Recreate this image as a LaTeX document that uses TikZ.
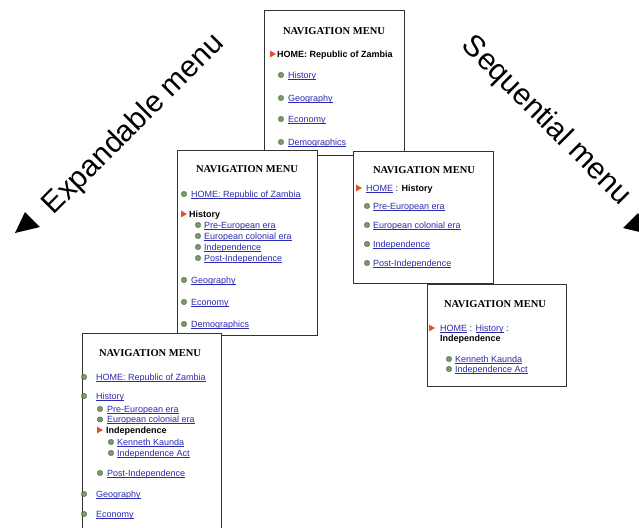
\documentclass[tikz,border=0pt]{standalone}
\usepackage{fontspec}
\setmainfont{Liberation Sans}
\newfontfamily\titlefamily{Liberation Serif}
\usetikzlibrary{shapes.geometric}
\definecolor{linkblue}{HTML}{2B2BB0}
\definecolor{bulgreen}{HTML}{7C9C6C}
\definecolor{buledge}{HTML}{4E6E48}
\definecolor{curred}{HTML}{E2502C}
\definecolor{framecol}{HTML}{333333}
\newsavebox\lnkbox
\newcommand\lnk[1]{{\color{linkblue}\sbox\lnkbox{#1}\rlap{\rule[-1.3pt]{\wd\lnkbox}{0.45pt}}\usebox\lnkbox}}
\tikzset{
  panel/.style={draw=framecol, line width=1.3pt, fill=white, anchor=north west, inner sep=0pt},
  ttl/.style={font=\titlefamily\bfseries\fontsize{10.5}{12}\selectfont, anchor=base, inner sep=0pt},
  item/.style={font=\fontsize{9}{11}\selectfont, anchor=base west, inner sep=0pt},
  cur/.style={item, font=\bfseries\fontsize{9}{11}\selectfont},
  bul/.style={draw=buledge, fill=bulgreen, line width=0.6pt, rounded corners=1.2pt, minimum size=4.6pt, inner sep=0pt},
  curmk/.style={fill=curred, regular polygon, regular polygon sides=3, shape border rotate=-90, minimum size=8pt, inner sep=0pt},
  bigtxt/.style={font=\fontsize{30}{36}\selectfont, inner sep=0pt},
}
\begin{document}
\begin{tikzpicture}[x=1pt,y=-1pt]
\useasboundingbox (0,0) rectangle (639,527);
\clip (0,0) rectangle (639,527);
% side labels
\node[bigtxt, rotate=45] (expl) at (134,125) {Expandable menu};
\node[bigtxt, rotate=-45] (seql) at (546,121) {Sequential menu};
\fill (15,233) -- (25,212) -- (40,227) -- cycle;
\fill (623,228) -- (638,213) -- (648,234) -- cycle;
% panel 1 (top)
\node[panel, minimum width=140pt, minimum height=145pt] (P1) at (264,10) {};
\node[ttl] (p1t) at (334,34.5) {NAVIGATION MENU};
\node[curmk] (p1m) at (272,54) {};
\node[cur] (p1a) at (277,57.5) {HOME: Republic of Zambia};
\node[bul] (p1b1) at (281,75) {}; \node[item] (p1b) at (288,78) {\lnk{History}};
\node[bul] (p1c1) at (281,98) {}; \node[item] (p1c) at (288,101) {\lnk{Geography}};
\node[bul] (p1d1) at (281,119) {}; \node[item] (p1d) at (288,122) {\lnk{Economy}};
\node[bul] (p1e1) at (281,142) {}; \node[item] (p1e) at (288,145) {\lnk{Demographics}};
% panel 2 (expandable, level 2)
\node[panel, minimum width=140pt, minimum height=185pt] (P2) at (177,150) {};
\node[ttl] (p2t) at (247,172.5) {NAVIGATION MENU};
\node[bul] (p2a1) at (184,194) {}; \node[item] (p2a) at (191,197) {\lnk{HOME: Republic of Zambia}};
\node[curmk] (p2m) at (183,214) {};
\node[cur] (p2b) at (189,217) {History};
\node[bul] (p2c1) at (198,225) {}; \node[item] (p2c) at (204,228) {\lnk{Pre-European era}};
\node[bul] (p2d1) at (198,236) {}; \node[item] (p2d) at (204,239) {\lnk{European colonial era}};
\node[bul] (p2e1) at (198,247) {}; \node[item] (p2e) at (204,250) {\lnk{Independence}};
\node[bul] (p2f1) at (198,258) {}; \node[item] (p2f) at (204,261) {\lnk{Post-Independence}};
\node[bul] (p2g1) at (184,280) {}; \node[item] (p2g) at (191,283) {\lnk{Geography}};
\node[bul] (p2h1) at (184,302) {}; \node[item] (p2h) at (191,305) {\lnk{Economy}};
\node[bul] (p2i1) at (184,324) {}; \node[item] (p2i) at (191,327) {\lnk{Demographics}};
% panel 3 (sequential, level 2)
\node[panel, minimum width=140pt, minimum height=132pt] (P3) at (353,151) {};
\node[ttl] (p3t) at (424,173.5) {NAVIGATION MENU};
\node[curmk] (p3m) at (358,188) {};
\node[item] (p3a) at (366,191) {\lnk{HOME} : \textbf{History}};
\node[bul] (p3b1) at (367,206) {}; \node[item] (p3b) at (373,209) {\lnk{Pre-European era}};
\node[bul] (p3c1) at (367,225) {}; \node[item] (p3c) at (373,228) {\lnk{European colonial era}};
\node[bul] (p3d1) at (367,244) {}; \node[item] (p3d) at (373,247) {\lnk{Independence}};
\node[bul] (p3e1) at (367,263) {}; \node[item] (p3e) at (373,266) {\lnk{Post-Independence}};
% panel 4 (sequential, level 3)
\node[panel, minimum width=139pt, minimum height=102pt] (P4) at (427,284) {};
\node[ttl] (p4t) at (495,307.5) {NAVIGATION MENU};
\node[curmk] (p4m) at (431,328) {};
\node[item] (p4a) at (440,331) {\lnk{HOME} : \lnk{History} :};
\node[cur] (p4b) at (440,341.5) {Independence};
\node[bul] (p4c1) at (449,359) {}; \node[item] (p4c) at (455,362) {\lnk{Kenneth Kaunda}};
\node[bul] (p4d1) at (449,369) {}; \node[item] (p4d) at (455,372) {\lnk{Independence Act}};
% panel 5 (expandable, level 3)
\node[panel, minimum width=139pt, minimum height=215pt] (P5) at (82,333) {};
\node[ttl] (p5t) at (150,356.5) {NAVIGATION MENU};
\node[bul] (p5a1) at (84,377) {}; \node[item] (p5a) at (96,380) {\lnk{HOME: Republic of Zambia}};
\node[bul] (p5b1) at (84,396) {}; \node[item] (p5b) at (96,399) {\lnk{History}};
\node[bul] (p5c1) at (100,409) {}; \node[item] (p5c) at (107,412) {\lnk{Pre-European era}};
\node[bul] (p5d1) at (100,419.5) {}; \node[item] (p5d) at (107,422.5) {\lnk{European colonial era}};
\node[curmk] (p5m) at (99,430) {};
\node[cur] (p5e) at (106,433) {Independence};
\node[bul] (p5f1) at (111,442) {}; \node[item] (p5f) at (117,445) {\lnk{Kenneth Kaunda}};
\node[bul] (p5g1) at (111,453) {}; \node[item] (p5g) at (117,456) {\lnk{Independence Act}};
\node[bul] (p5h1) at (100,473) {}; \node[item] (p5h) at (107,476) {\lnk{Post-Independence}};
\node[bul] (p5i1) at (84,494) {}; \node[item] (p5i) at (96,497) {\lnk{Geography}};
\node[bul] (p5j1) at (84,514) {}; \node[item] (p5j) at (96,517) {\lnk{Economy}};
\end{tikzpicture}
\end{document}
